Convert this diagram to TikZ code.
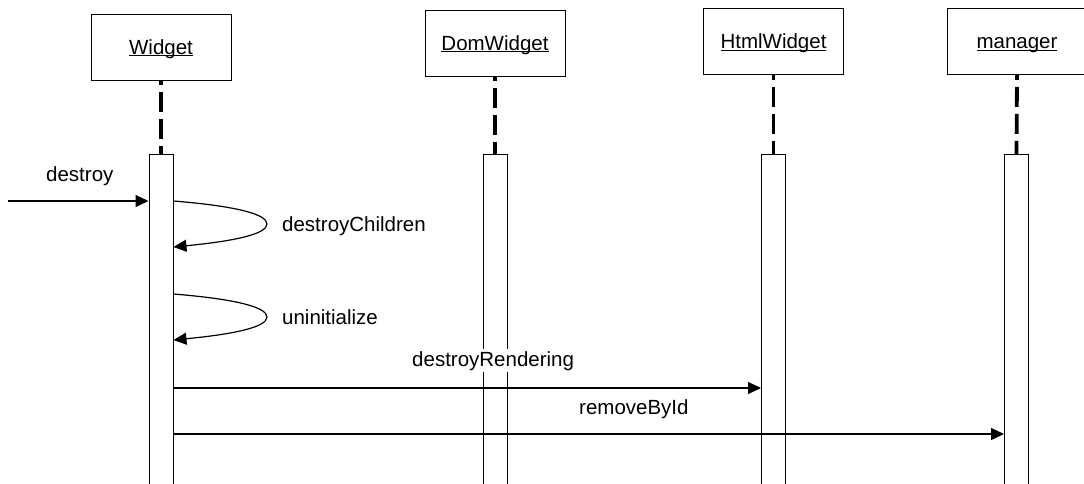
\documentclass[tikz,border=0pt]{standalone}
\usepackage{fontspec}
\setmainfont{Liberation Sans}
\usetikzlibrary{arrows.meta}
% underlined object name with a firm rule just below the baseline
\newcommand\objname[1]{\setbox0\hbox{#1}\rlap{\rule[-2.4pt]{\wd0}{1.3pt}}\box0}
\begin{document}
\begin{tikzpicture}[x=1pt,y=-1pt,
  font=\fontsize{20.5}{24}\selectfont,
  obj/.style={draw, line width=0.9pt, fill=white, minimum width=140pt,
    minimum height=66pt, inner sep=0pt, text height=14pt, text depth=0pt},
  act/.style={draw, line width=1pt, fill=white, minimum width=24pt,
    minimum height=360pt, inner sep=0pt, anchor=north},
  life/.style={line width=3.8pt, dash pattern=on 20pt off 7pt, dash phase=15pt},
  msg/.style={line width=1.2pt, -{Triangle[length=13pt,width=12pt]}},
  lbl/.style={inner sep=2pt, fill=white, anchor=base west}]

\useasboundingbox (0,0) rectangle (1084,483);
\clip (0,0) rectangle (1084,483);

% objects
\node[obj] (w) at (161,47)    {\objname{Widget}};
\node[obj] (d) at (495,43)    {\objname{DomWidget}};
\node[obj] (h) at (773.5,41.5){\objname{HtmlWidget}};
\node[obj] (m) at (1017,41.5) {\objname{manager}};

% activation bars
\node[act] (wa) at (161,154)   {};
\node[act] (da) at (495,154)   {};
\node[act] (ha) at (773.5,154) {};
\node[act] (ma) at (1016.5,154){};

% lifelines
\draw[life] (w.south) -- (wa.north);
\draw[life] (d.south) -- (da.north);
\draw[life] (h.south) -- (ha.north);
\draw[life] (m.south) -- (ma.north);

% incoming call
\coordinate (src) at (8,201);
\draw[msg] (src) -- (src -| wa.west);
\node[lbl] (ldestroy) at (44,181) {destroy};

% self calls
\draw[msg] (wa.east |- 0,201) .. controls (235,206) and (267,214) .. (267,224)
  .. controls (267,234) and (235,241) .. (wa.east |- 0,247);
\node[lbl] (lchildren) at (280,231) {destroyChildren};

\draw[msg] (wa.east |- 0,294) .. controls (235,299) and (267,307) .. (267,317)
  .. controls (267,327) and (235,334) .. (wa.east |- 0,340);
\node[lbl] (luninit) at (280,324) {uninitialize};

% calls to other objects
\draw[msg] (wa.east |- 0,388) -- (ha.west |- 0,388);
\node[lbl] (lrender) at (410,366) {destroyRendering};

\draw[msg] (wa.east |- 0,434) -- (ma.west |- 0,434);
\node[lbl] (lremove) at (577,414) {removeById};
\end{tikzpicture}
\end{document}
